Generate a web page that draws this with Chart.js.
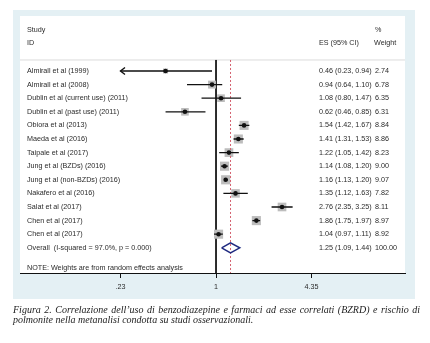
<!DOCTYPE html>
<html>
<head>
<meta charset="utf-8">
<script src="https://cdn.jsdelivr.net/npm/chart.js@4.4.1/dist/chart.umd.min.js"></script>
<style>
  html, body { margin: 0; padding: 0; background: #fff; }
  #wrap { position: relative; width: 430px; height: 343px; }
  #caption {
    position: absolute; left: 13px; top: 305px; width: 407px;
    font: italic 10px "Liberation Serif", "DejaVu Serif", serif;
    line-height: 10px; color: #222;
  }
  #caption .l1 { text-align: justify; text-align-last: justify; }
</style>
</head>
<body>
<div id="wrap">
  <canvas id="forest"></canvas>
  <div id="caption">
    <div class="l1">Figura 2. Correlazione dell’uso di benzodiazepine e farmaci ad esse correlati (BZRD) e rischio di</div>
    <div>polmonite nella metanalisi condotta su studi osservazionali.</div>
  </div>
</div>
<script>
// Forest plot: BZRD use and pneumonia risk

const studies = [
    'Almirall et al (1999)',
    'Almirall et al (2008)',
    'Dublin et al (current use) (2011)',
    'Dublin et al (past use) (2011)',
    'Obiora et al (2013)',
    'Maeda et al (2016)',
    'Taipale et al (2017)',
    'Jung et al (BZDs) (2016)',
    'Jung et al (non-BZDs) (2016)',
    'Nakafero et al (2016)',
    'Salat et al (2017)',
    'Chen et al (2017)',
    'Chen et al (2017)'
];
const es      = [0.46, 0.94, 1.08, 0.62, 1.54, 1.41, 1.22, 1.14, 1.16, 1.35, 2.76, 1.86, 1.04];
const ciLow   = [0.23, 0.64, 0.80, 0.46, 1.42, 1.31, 1.05, 1.08, 1.13, 1.12, 2.35, 1.75, 0.97];
const ciHigh  = [0.94, 1.10, 1.47, 0.85, 1.67, 1.53, 1.42, 1.20, 1.20, 1.63, 3.25, 1.97, 1.11];
const weights = [2.74, 6.78, 6.35, 6.31, 8.84, 8.86, 8.23, 9.00, 9.07, 7.82, 8.11, 8.97, 8.92];

const overallLabel = 'Overall  (I-squared = 97.0%, p = 0.000)';
const overallEs = 1.25;
const overallLow = 1.09;
const overallHigh = 1.44;
const overallWeight = 100;

const tickVals = [0.23, 1, 4.35];
const tickLabels = ['.23', '1', '4.35'];

// layout
const X_MIN = 0.0490, X_MAX = 18.31;     // log axis range across the white plot panel
const ROW_MIN = -4.044, ROW_MAX = 14.853; // row index range, top to bottom
const SEP_ROW = -0.81;
const FONT = '7.2px "Liberation Sans", Arial, sans-serif';

const overallRow = studies.length;
const fmt = v => v.toFixed(2);

const ciData = [];
studies.forEach((_, i) => {
    ciData.push({ x: ciLow[i], y: i }, { x: ciHigh[i], y: i }, { x: null, y: null });
});
const pointData = es.map((v, i) => ({ x: v, y: i }));
const diamondData = [
    { x: overallLow, y: overallRow },
    { x: overallEs, y: overallRow - 0.37 },
    { x: overallHigh, y: overallRow },
    { x: overallEs, y: overallRow + 0.37 },
    { x: overallLow, y: overallRow }
];

const panelPlugin = {
    id: 'panel',
    beforeDraw(chart) {
        const { ctx, chartArea: ca } = chart;
        ctx.save();
        ctx.fillStyle = '#e4f0f4';
        ctx.fillRect(13, 10, 402, 289);
        ctx.fillStyle = '#ffffff';
        ctx.fillRect(ca.left, ca.top, ca.right - ca.left, ca.bottom - ca.top);
        ctx.strokeStyle = '#dcdcdc';
        ctx.lineWidth = 1;
        const ys = chart.scales.y.getPixelForValue(SEP_ROW);
        ctx.beginPath();
        ctx.moveTo(ca.left, ys);
        ctx.lineTo(ca.right, ys);
        ctx.stroke();
        ctx.restore();
    }
};

const textPlugin = {
    id: 'texts',
    afterDatasetsDraw(chart) {
        const { ctx } = chart;
        const x = chart.scales.x, y = chart.scales.y;
        ctx.save();
        ctx.font = FONT;
        ctx.fillStyle = '#2a2a2a';
        ctx.textBaseline = 'middle';
        ctx.textAlign = 'left';

        ctx.fillText('Study', 27, 30);
        ctx.fillText('ID', 27, 43);
        ctx.fillText('ES (95% CI)', 319, 43);
        ctx.fillText('%', 375, 30);
        ctx.fillText('Weight', 374, 43);

        studies.forEach((s, i) => {
            const py = y.getPixelForValue(i);
            ctx.fillText(s, 27, py);
            ctx.fillText(fmt(es[i]) + ' (' + fmt(ciLow[i]) + ', ' + fmt(ciHigh[i]) + ')', 319, py);
            ctx.fillText(fmt(weights[i]), 375, py);
        });
        const po = y.getPixelForValue(overallRow);
        ctx.fillText(overallLabel, 27, po);
        ctx.fillText(fmt(overallEs) + ' (' + fmt(overallLow) + ', ' + fmt(overallHigh) + ')', 319, po);
        ctx.fillText(fmt(overallWeight), 375, po);

        ctx.fillText('NOTE: Weights are from random effects analysis', 27, 268);

        // arrows where the CI runs past the axis
        ctx.strokeStyle = '#111';
        ctx.lineWidth = 1.4;
        studies.forEach((_, i) => {
            if (ciLow[i] > tickVals[0]) return;
            const px = x.getPixelForValue(ciLow[i]), py = y.getPixelForValue(i);
            ctx.beginPath();
            ctx.moveTo(px + 4.5, py - 3.5);
            ctx.lineTo(px, py);
            ctx.lineTo(px + 4.5, py + 3.5);
            ctx.stroke();
        });
        ctx.restore();
    }
};

new Chart(document.getElementById('forest'), {
    type: 'scatter',
    data: {
        datasets: [
            {
                data: pointData,
                pointStyle: 'circle',
                pointRadius: 2.3,
                pointBackgroundColor: '#111',
                pointBorderWidth: 0
            },
            {
                data: ciData,
                showLine: true,
                spanGaps: false,
                borderColor: '#111',
                borderWidth: 1.3,
                pointRadius: 0
            },
            {
                data: diamondData,
                showLine: true,
                borderColor: '#1f2a80',
                borderWidth: 1.5,
                pointRadius: 0,
                fill: false
            },
            {
                data: [{ x: overallEs, y: SEP_ROW }, { x: overallEs, y: ROW_MAX }],
                showLine: true,
                borderColor: '#d4606e',
                borderWidth: 1,
                borderDash: [2, 2],
                pointRadius: 0
            },
            {
                data: pointData,
                pointStyle: 'rect',
                pointRadius: ctx => 2.15 * Math.sqrt(weights[ctx.dataIndex] || 0),
                pointBackgroundColor: '#bdbdbd',
                pointBorderWidth: 0
            },
            {
                data: [{ x: 1, y: SEP_ROW }, { x: 1, y: ROW_MAX }],
                showLine: true,
                borderColor: '#111',
                borderWidth: 1,
                pointRadius: 0
            }
        ]
    },
    options: {
        responsive: true,
        maintainAspectRatio: false,
        animation: false,
        events: [],
        layout: { padding: { left: 20, right: 25, top: 16, bottom: 44 } },
        plugins: { legend: { display: false }, tooltip: { enabled: false } },
        scales: {
            x: {
                type: 'logarithmic',
                min: X_MIN,
                max: X_MAX,
                bounds: 'data',
                afterBuildTicks: s => { s.ticks = tickVals.map(v => ({ value: v })); },
                afterFit: s => { s.height = 26; },
                border: { display: true, color: '#111', width: 1 },
                grid: { drawOnChartArea: false, drawTicks: true, tickLength: 5, color: '#111', lineWidth: 1 },
                ticks: {
                    autoSkip: false,
                    maxRotation: 0,
                    padding: 5,
                    color: '#2a2a2a',
                    font: { family: '"Liberation Sans", Arial, sans-serif', size: 7.2 },
                    callback: (v, i) => tickLabels[i]
                }
            },
            y: {
                type: 'linear',
                reverse: true,
                min: ROW_MIN,
                max: ROW_MAX,
                bounds: 'data',
                display: false
            }
        }
    },
    plugins: [panelPlugin, textPlugin]
});
</script>
</body>
</html>
